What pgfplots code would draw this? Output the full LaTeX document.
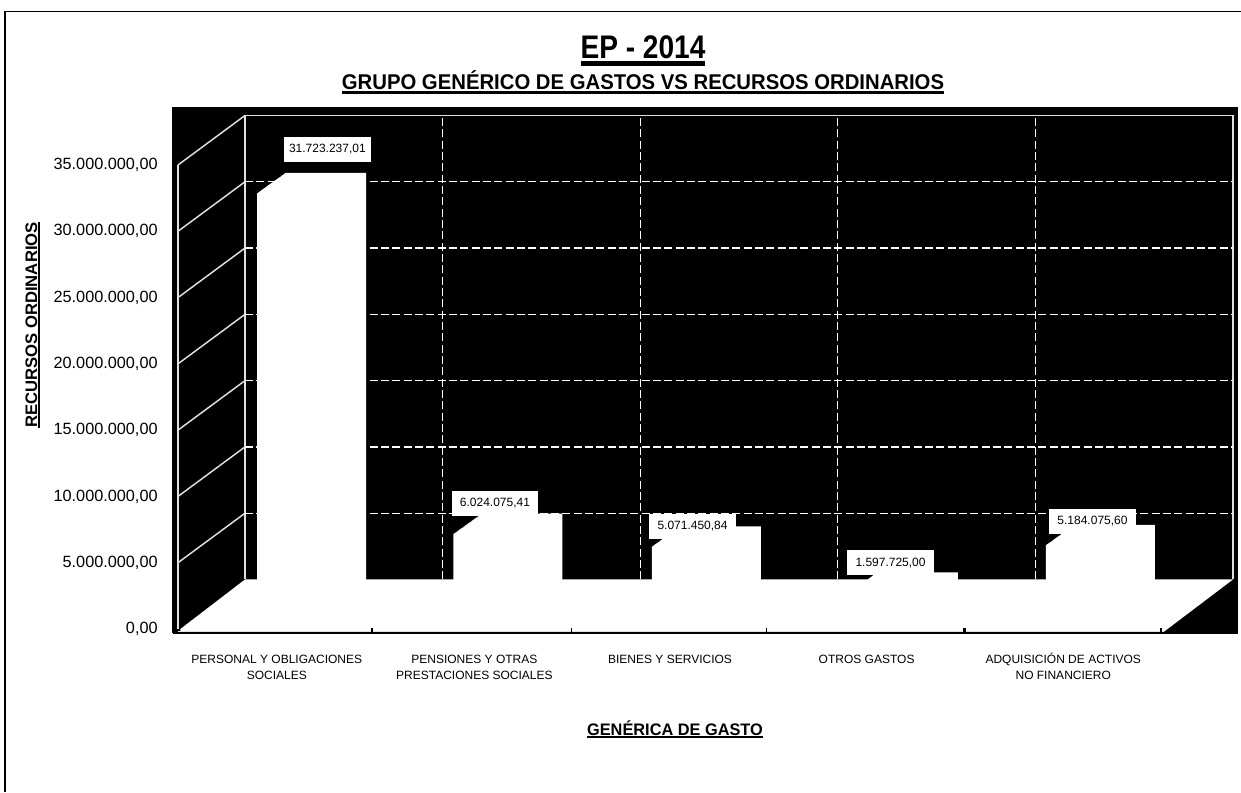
\documentclass[border=0pt]{standalone}
\usepackage{pgfplots}
\usepackage{pgfplotstable}
\pgfplotsset{compat=1.18}
\usepackage{fontspec}
\setmainfont{Liberation Sans}
\newcommand{\ulined}[3]{\leavevmode\setbox0=\hbox{#1}\rlap{\vrule height -#2 depth #3 width \wd0}\box0}
\newcommand{\st}{\rule{0pt}{9pt}}
% 1 px of the reference = 0.75 pt
\pgfplotstableread{
x v
0.605 31723237.01
1.599 6024075.41
2.603 5071450.84
3.600 1597725.00
4.597 5184075.60
}\bars
\pgfplotstableread{
x y label
0.756 36170000 31.723.237,01
1.604 9470000 6.024.075,41
2.604 7730000 5.071.450,84
3.606 5000000 1.597.725,00
4.628 8110000 5.184.075,60
}\labels
\definecolor{wall}{gray}{0.88}
\begin{document}
\begin{tikzpicture}[x=0.75pt,y=0.75pt]
\path[use as bounding box] (0,0) rectangle (1241,792);
\draw[black,line width=0.9pt] (5,0) -- (5,780.5) -- (1241,780.5);
\begin{axis}[
  at={(129.75pt,119.25pt)}, anchor=south west,
  scale only axis, width=798.75pt, height=394.5pt,
  xmin=-0.0253, xmax=5.3644, ymin=-301700, ymax=39375000,
  axis background/.style={fill=black},
  axis line style={black,line width=1pt},
  axis x line*=bottom, axis y line*=left,
  axis on top,
  clip=false, scaled y ticks=false,
  ytick={0,5000000,10000000,15000000,20000000,25000000,30000000,35000000},
  yticklabels={{0,00},{5.000.000,00},{10.000.000,00},{15.000.000,00},{20.000.000,00},{25.000.000,00},{30.000.000,00},{35.000.000,00}},
  yticklabel style={font=\fontsize{12.2}{14}\selectfont, xshift=-8pt},
  y tick style={black,line width=1.2pt},
  major tick length=3pt,
  xtick={0.5,1.5,2.49,3.485,4.48},
  xticklabels={{\st PERSONAL Y OBLIGACIONES\\SOCIALES},{\st PENSIONES Y OTRAS\\PRESTACIONES SOCIALES},{\st BIENES Y SERVICIOS},{\st OTROS GASTOS},{\st ADQUISICIÓN DE ACTIVOS\\NO FINANCIERO}},
  xticklabel style={font=\fontsize{9}{12}\selectfont, align=center, anchor=north, yshift=-10pt, text depth=0pt},
  x tick style={draw=none},
]
% left wall slanted lines and edges
\pgfplotsinvokeforeach{5000000,10000000,15000000,20000000,25000000,30000000,35000000}{
  \addplot[wall,line width=1.1pt,forget plot] coordinates {(0,#1) (0.339,#1+3734000)};
}
\addplot[wall,line width=1.1pt,forget plot] coordinates {(0,0) (0,35000000)};
\addplot[wall,line width=1.1pt,forget plot] coordinates {(0.339,3734000) (0.339,38734000) (5.339,38734000) (5.339,3734000)};
% back wall grid
\pgfplotsinvokeforeach{8734000,13734000,18734000,23734000,28734000,33734000}{
  \addplot[white,line width=0.9pt,dash pattern=on 6pt off 2.5pt,forget plot] coordinates {(0.339,#1) (5.339,#1)};
}
\pgfplotsinvokeforeach{1.339,2.339,3.339,4.339}{
  \addplot[white,line width=0.9pt,dash pattern=on 6pt off 2.5pt,forget plot] coordinates {(#1,3734000) (#1,38734000)};
}
% floor
\addplot[fill=white,draw=none,forget plot] coordinates {(0.012,0) (0.012,-200000) (4.99,-200000) (5.339,3734000) (0.339,3734000)} -- cycle;
\addplot[wall,line width=0.9pt,forget plot] coordinates {(0,-210000) (4.99,-210000)};
% bars, extruded from front face to back face
\pgfplotsinvokeforeach{0,1,...,28}{
  \addplot[ybar,fill=white,draw=none,bar width=60.75pt,forget plot]
    table[x expr={\thisrow{x}+#1/197.6}, y expr={\thisrow{v}+1162000+#1*54000}] {\bars};
}
% category separators on the floor edge
\pgfplotsinvokeforeach{0.982,1.99,2.98,4.975}{
  \addplot[black,line width=0.9pt,forget plot] coordinates {(#1,-250000) (#1,50000)};
}
\addplot[black,line width=2.2pt,forget plot] coordinates {(3.98,-250000) (3.98,80000)};
% value labels
\addplot[only marks,mark=none,forget plot,point meta=explicit symbolic,
  nodes near coords,
  nodes near coords style={anchor=center,fill=white,text=black,inner sep=0pt,
    minimum width=65pt,minimum height=18.75pt,font=\fontsize{9}{10}\selectfont}]
  table[x=x,y=y,meta=label] {\labels};
\end{axis}
\node[anchor=base] at (643,733) {\scalebox{0.86}[1]{\ulined{\fontsize{24.5}{28}\bfseries\selectfont EP - 2014}{1.5pt}{5pt}}};
\node[anchor=base] at (643,702) {\scalebox{0.952}[1]{\ulined{\fontsize{16}{18}\bfseries\selectfont GRUPO GENÉRICO DE GASTOS VS RECURSOS ORDINARIOS}{0.5pt}{3pt}}};
\node[anchor=base,rotate=90] at (37,467) {\ulined{\fontsize{12.5}{14}\bfseries\selectfont RECURSOS ORDINARIOS}{0.5pt}{2pt}};
\node[anchor=base] at (675,57) {\scalebox{0.98}[1]{\ulined{\fontsize{12.5}{14}\bfseries\selectfont GENÉRICA DE GASTO}{0.5pt}{2pt}}};
\end{tikzpicture}
\end{document}
